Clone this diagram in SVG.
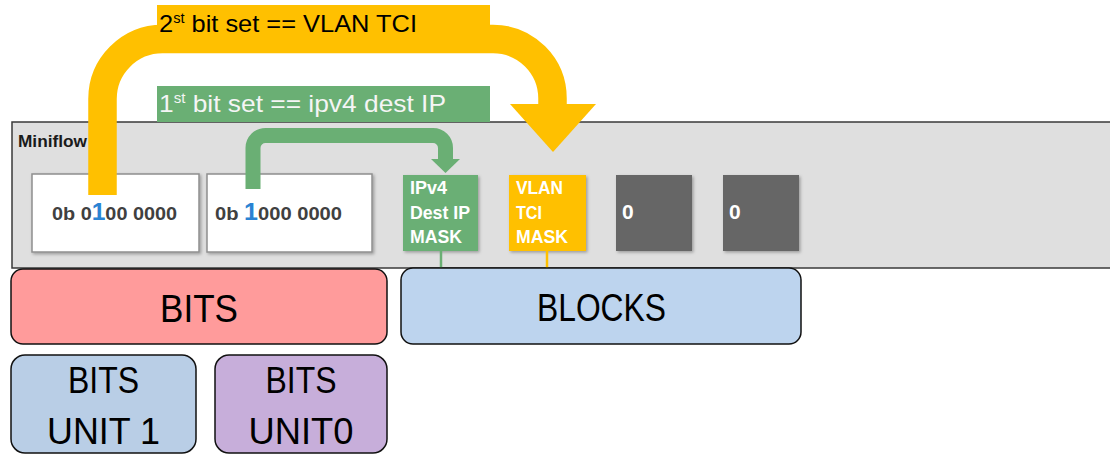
<svg xmlns="http://www.w3.org/2000/svg" width="1110" height="455" viewBox="0 0 1110 455">
<style>
  text { font-family: "Liberation Sans", Arial, sans-serif; }
  .big { font-size: 39px; fill: #000; }
  .mid { font-size: 37px; fill: #000; }
  .bold { font-weight: bold; }
  .mask { font-size: 18px; font-weight: bold; fill: #fff; }
  .zero { font-size: 21px; font-weight: bold; fill: #fff; }
  .bin { font-size: 18.5px; font-weight: bold; fill: #404040; }
  .one { font-size: 23px; fill: #2a83d3; }
  .rbox { stroke: #111; stroke-width: 1.5; }
  .wbox { fill: #fff; stroke: #8f8f8f; stroke-width: 1.5; }
</style>
<defs>
  <filter id="sh" x="-10%" y="-10%" width="130%" height="130%">
    <feDropShadow dx="1.5" dy="1.5" stdDeviation="1.5" flood-color="#000" flood-opacity="0.3"/>
  </filter>
</defs>
<rect width="1110" height="455" fill="#fff"/>

<g id="miniflow">
  <rect x="12" y="122" width="1104" height="146" fill="#dfdfdf" stroke="#3a3a3a" stroke-width="1.5"/>
  <text x="18" y="147" class="bold" font-size="16.5" fill="#1a1a1a" textLength="69" lengthAdjust="spacingAndGlyphs">Miniflow</text>
</g>

<g id="bits-word-1">
  <rect x="32" y="174" width="167" height="78" class="wbox" filter="url(#sh)"/>
  <text x="52" y="220" class="bin" textLength="125" lengthAdjust="spacingAndGlyphs">0b 0<tspan class="one">1</tspan>00 0000</text>
</g>
<g id="bits-word-0">
  <rect x="207" y="174" width="165" height="78" class="wbox" filter="url(#sh)"/>
  <text x="215" y="220" class="bin" textLength="127" lengthAdjust="spacingAndGlyphs">0b <tspan class="one">1</tspan>000 0000</text>
</g>

<g id="block-ipv4">
  <rect x="403" y="175" width="75" height="76" fill="#6aaf74" filter="url(#sh)"/>
  <text x="410" y="194" class="mask" textLength="37" lengthAdjust="spacingAndGlyphs">IPv4</text>
  <text x="410" y="219" class="mask" textLength="60" lengthAdjust="spacingAndGlyphs">Dest IP</text>
  <text x="410" y="243" class="mask" textLength="52" lengthAdjust="spacingAndGlyphs">MASK</text>
</g>
<g id="block-vlan">
  <rect x="509" y="175" width="77" height="76" fill="#ffc000" filter="url(#sh)"/>
  <text x="516" y="194" class="mask" textLength="47" lengthAdjust="spacingAndGlyphs">VLAN</text>
  <text x="516" y="219" class="mask" textLength="26" lengthAdjust="spacingAndGlyphs">TCI</text>
  <text x="516" y="243" class="mask" textLength="52" lengthAdjust="spacingAndGlyphs">MASK</text>
</g>
<g id="block-3">
  <rect x="616" y="175" width="76" height="76" fill="#666" filter="url(#sh)"/>
  <text x="622" y="219" class="zero">0</text>
</g>
<g id="block-4">
  <rect x="723" y="175" width="76" height="76" fill="#666" filter="url(#sh)"/>
  <text x="729" y="219" class="zero">0</text>
</g>

<g id="connectors">
  <line x1="441" y1="251" x2="441" y2="271" stroke="#6aaf74" stroke-width="2.5"/>
  <line x1="547" y1="251" x2="547" y2="271" stroke="#ffc000" stroke-width="2.5"/>
  <path d="M102.5,195 V99 A60,60 0 0 1 162.5,39 H493 A59.5,59.5 0 0 1 552.5,98.5 V106" fill="none" stroke="#ffc000" stroke-width="28.5"/>
  <polygon points="510,104 596,104 553,152" fill="#ffc000"/>
  <path d="M253,189 V148 A12.5,12.5 0 0 1 265.5,135.5 H433 A12.5,12.5 0 0 1 445.5,148 V160" fill="none" stroke="#6aaf74" stroke-width="15"/>
  <polygon points="431,159 460,159 445.5,173" fill="#6aaf74"/>
</g>

<g id="label-vlan">
  <rect x="157" y="5" width="333" height="40" fill="#ffc000"/>
  <text x="159" y="32" font-size="24.5" fill="#000" textLength="258" lengthAdjust="spacingAndGlyphs">2<tspan font-size="14" dy="-9">st</tspan><tspan dy="9"> bit set == VLAN TCI</tspan></text>
</g>
<g id="label-ipv4">
  <rect x="157" y="86" width="333" height="36" fill="#6aaf74"/>
  <text x="159" y="112" font-size="24.5" fill="#f5f5f5" textLength="287" lengthAdjust="spacingAndGlyphs">1<tspan font-size="14" dy="-9">st</tspan><tspan dy="9"> bit set == ipv4 dest IP</tspan></text>
</g>

<g id="bits">
  <rect x="11" y="269" width="376" height="75" rx="12" fill="#ff9b9b" class="rbox"/>
  <text x="199" y="322" class="big" text-anchor="middle" textLength="78" lengthAdjust="spacingAndGlyphs">BITS</text>
</g>
<g id="blocks">
  <rect x="401" y="268" width="400" height="76" rx="12" fill="#bdd4ee" class="rbox"/>
  <text x="601.5" y="321" class="big" text-anchor="middle" textLength="129" lengthAdjust="spacingAndGlyphs">BLOCKS</text>
</g>
<g id="bits-unit1">
  <rect x="11" y="355" width="185" height="98" rx="14" fill="#b9cee6" class="rbox"/>
  <text x="103.5" y="393" class="mid" text-anchor="middle" textLength="71" lengthAdjust="spacingAndGlyphs">BITS</text>
  <text x="103.5" y="444" class="mid" text-anchor="middle" textLength="113" lengthAdjust="spacingAndGlyphs">UNIT 1</text>
</g>
<g id="bits-unit0">
  <rect x="215" y="355" width="172" height="98" rx="14" fill="#c7aeda" class="rbox"/>
  <text x="301" y="393" class="mid" text-anchor="middle" textLength="71" lengthAdjust="spacingAndGlyphs">BITS</text>
  <text x="301" y="444" class="mid" text-anchor="middle" textLength="105" lengthAdjust="spacingAndGlyphs">UNIT0</text>
</g>
</svg>
